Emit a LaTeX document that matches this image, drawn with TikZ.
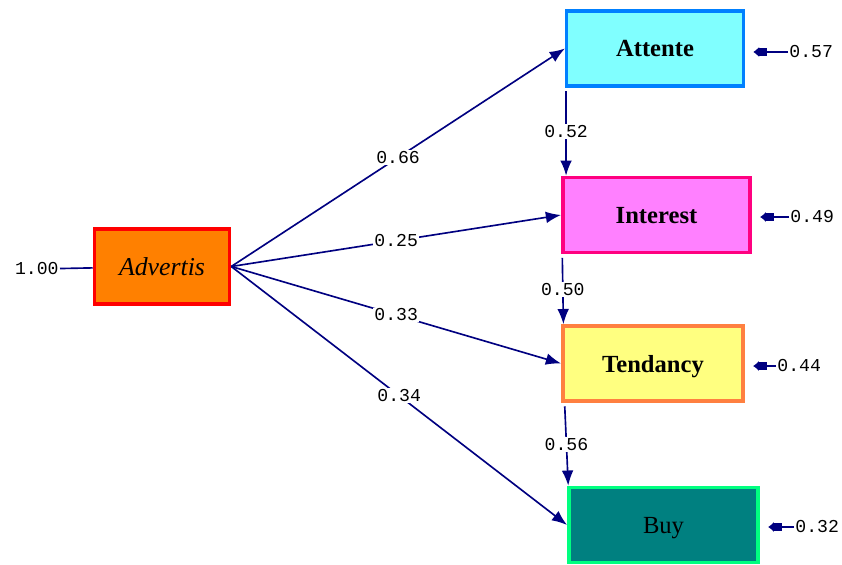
\documentclass[tikz,border=0pt]{standalone}
\usepackage{fontspec}
\setmainfont{Liberation Serif}
\setmonofont{Liberation Mono}
\usepackage{tikz}
\usetikzlibrary{arrows.meta, positioning}
\definecolor{pathnavy}{RGB}{0, 0, 128}
\definecolor{advfill}{RGB}{255, 128, 0}
\definecolor{advline}{RGB}{255, 0, 0}
\definecolor{attfill}{RGB}{128, 255, 255}
\definecolor{attline}{RGB}{0, 128, 255}
\definecolor{intfill}{RGB}{255, 128, 255}
\definecolor{intline}{RGB}{255, 0, 128}
\definecolor{tenfill}{RGB}{255, 255, 128}
\definecolor{tenline}{RGB}{255, 128, 64}
\definecolor{buyfill}{RGB}{0, 128, 128}
\definecolor{buyline}{RGB}{0, 255, 128}

\begin{document}
\begin{tikzpicture}[x=0.03cm, y=-0.03cm,
  var/.style={draw, line width=3pt, minimum height=2.25cm, text depth=-2pt, font=\fontsize{21}{24}\selectfont\bfseries},
  coef/.style={fill=white, text=black, inner sep=1pt, font=\ttfamily\fontsize{15.5}{16}\selectfont},
  effect/.style={pathnavy, line width=1.4pt, -{Latex[length=13pt, width=10pt]}},
  errarrow/.style={pathnavy, line width=1.4pt, -{Rectangle[length=7pt, width=6pt] Latex[length=5pt, width=9pt]}, shorten >=7pt}]
  \useasboundingbox (0, 0) rectangle (842, 565);

  % variables
  \node[var, fill=advfill, draw=advline, minimum width=4.05cm, font=\fontsize{22}{24}\selectfont\itshape] (advertis) at (162, 266.5) {Advertis};
  \node[var, fill=attfill, draw=attline, minimum width=5.3cm] (attente) at (655, 48.5) {Attente};
  \node[var, fill=intfill, draw=intline, minimum width=5.62cm] (interest) at (656.5, 215) {Interest};
  \node[var, fill=tenfill, draw=tenline, minimum width=5.41cm] (tendancy) at (653, 363.5) {Tendancy};
  \node[var, fill=buyfill, draw=buyline, minimum width=5.68cm, font=\fontsize{21}{24}\selectfont] (buy) at (663.5, 525) {Buy};

  % variance of Advertis
  \node[coef, anchor=east] (advvar) at (60, 269) {1.00};
  \draw[pathnavy, line width=1.4pt] (advvar) -- (advertis);

  % effects of Advertis
  \draw[effect] (advertis.east) -- (attente.west) node[coef, midway] (c66) {0.66};
  \draw[effect] (advertis.east) -- (interest.west) node[coef, midway] (c25) {0.25};
  \draw[effect] (advertis.east) -- (tendancy.west) node[coef, midway] (c33) {0.33};
  \draw[effect] (advertis.east) -- (buy.west) node[coef, midway] (c34) {0.34};

  % chain
  \draw[effect, shorten <=3pt] ([xshift=1pt]attente.south west) -- ([xshift=1pt]attente.south west |- interest.north) node[coef, midway] (c52) {0.52};
  \draw[effect, shorten <=3pt] ([xshift=1pt]interest.south west) -- ([xshift=2pt]interest.south west |- tendancy.north) node[coef, midway] (c50) {0.50};
  \draw[effect, shorten <=3pt] ([xshift=3pt]tendancy.south west) -- ([xshift=1pt]buy.north west) node[coef, midway] (c56) {0.56};

  % residuals
  \node[coef, anchor=west] (e1) at (788, 52) {0.57};
  \node[coef, anchor=west] (e2) at (789, 217) {0.49};
  \node[coef, anchor=west] (e3) at (776, 366) {0.44};
  \node[coef, anchor=west] (e4) at (794, 527) {0.32};
  \draw[errarrow] (e1.west) -- (e1.west -| attente.east);
  \draw[errarrow] (e2.west) -- (e2.west -| interest.east);
  \draw[errarrow] (e3.west) -- (e3.west -| tendancy.east);
  \draw[errarrow] (e4.west) -- (e4.west -| buy.east);
\end{tikzpicture}
\end{document}
